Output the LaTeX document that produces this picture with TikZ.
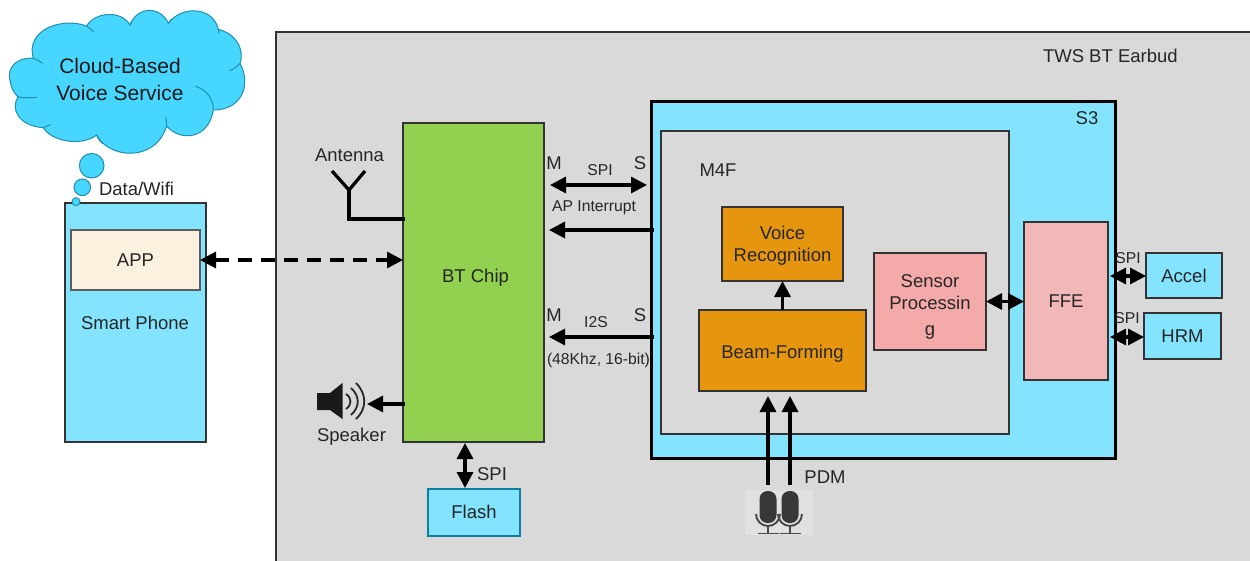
\documentclass[tikz,border=0pt]{standalone}
\usepackage{fontspec}
\setmainfont{Liberation Sans}
\usetikzlibrary{arrows.meta}
\definecolor{lightcy}{HTML}{84E4FF}
\definecolor{cloudcy}{HTML}{46D6FF}
\definecolor{cloudln}{HTML}{1F8FAE}
\definecolor{bggray}{HTML}{D9D9D9}
\definecolor{micbg}{HTML}{E1E1E1}
\definecolor{btgreen}{HTML}{92D050}
\definecolor{boxor}{HTML}{E6950F}
\definecolor{senspk}{HTML}{F4AAA8}
\definecolor{ffepk}{HTML}{F2B8B8}
\definecolor{appcr}{HTML}{FBF1DF}
\definecolor{edge}{HTML}{333333}
\definecolor{tealedge}{HTML}{0E7F9E}
\newcommand{\fsL}{\fontsize{18.5}{23}\selectfont}
\newcommand{\fsS}{\fontsize{15.7}{19}\selectfont}
\newcommand{\fsC}{\fontsize{21}{26}\selectfont}
\newcommand{\dn}[2]{\raisebox{-#1pt}[0.7em][0.2em]{#2}}
\tikzset{
  x=1pt,y=-1pt,
  box/.style={draw=edge,line width=1.4pt,inner sep=0pt,outer sep=0pt,align=center,font=\fsL,text=black!85},
  lblL/.style={inner sep=0pt,outer sep=0pt,font=\fsL,text=black!85,align=center},
  lblS/.style={inner sep=0pt,outer sep=0pt,font=\fsS,text=black!85,align=center},
  wire/.style={line width=3.3pt,draw=black},
  one/.style={wire,-{Triangle[length=16pt,width=16pt]}},
  two/.style={wire,{Triangle[length=16pt,width=16pt]}-{Triangle[length=16pt,width=16pt]}},
  bubble/.style={draw=cloudln,fill=cloudcy,line width=1pt},
  micpart/.style={draw=black!72,line width=1.9pt,fill=none},
  spkarc/.style={draw=black!85,line width=1.8pt,fill=none},
  cloudseam/.style={draw=cloudln,line width=1pt},
}
\begin{document}
\begin{tikzpicture}
\useasboundingbox (0,0) rectangle (1250,560);
\clip (0,0) rectangle (1250,560);
\fill[white] (0,0) rectangle (1250,560);
% earbud background
\draw[draw=edge,fill=bggray,line width=1.2pt] (276,32) rectangle (1270,580);
\node[lblL,anchor=west] (tws) at (1043,56) {TWS BT Earbud};
% phone
\node[box,fill=lightcy,minimum width=141pt,minimum height=239pt] (phone) at (135.5,322.5) {};
\node[box,fill=appcr,minimum width=129pt,minimum height=60pt,draw=edge!80,line width=1.1pt] (app) at (135.5,260) {APP};
\node[lblL] (phonetxt) at (135,323) {Smart Phone};
% cloud
\begin{scope}[scale=1/3]
\path[bubble]
  (100,175) .. controls (50,170) and (20,205) .. (30,240)
  .. controls (33,265) and (45,285) .. (55,290)
  .. controls (30,325) and (55,378) .. (130,383)
  .. controls (155,425) and (245,440) .. (290,405)
  .. controls (325,475) and (465,490) .. (500,378)
  .. controls (540,425) and (625,420) .. (640,330)
  .. controls (725,330) and (755,255) .. (720,190)
  .. controls (735,145) and (705,100) .. (655,88)
  .. controls (640,20) and (545,15) .. (505,70)
  .. controls (480,15) and (410,20) .. (390,75)
  .. controls (365,30) and (285,35) .. (260,78)
  .. controls (185,50) and (75,90) .. (100,175) -- cycle;
\draw[cloudseam] (50,290) .. controls (70,295) and (90,293) .. (110,292);
\draw[cloudseam] (585,258) .. controls (620,270) and (640,295) .. (640,330);
\draw[cloudseam] (720,190) .. controls (712,200) and (700,208) .. (688,212);
\draw[cloudseam] (130,383) .. controls (135,380) and (145,377) .. (152,374);
\draw[cloudseam] (290,405) .. controls (293,415) and (300,425) .. (310,432);
\draw[cloudseam] (500,378) -- (498,350);
\draw[cloudseam] (260,78) .. controls (268,83) and (275,90) .. (280,96);
\draw[cloudseam] (100,175) .. controls (110,178) and (120,184) .. (128,190);
\draw[cloudseam] (390,75) -- (395,62);
\draw[cloudseam] (505,70) -- (514,57);
\draw[cloudseam] (655,88) -- (657,100);
\end{scope}
\node[inner sep=0pt,outer sep=0pt,font=\fsC,text=black!90,align=center] (cloudtxt) at (120,79) {Cloud-Based\\[1pt]Voice Service};
\node[circle,bubble,minimum size=24.6pt,inner sep=0pt] (b1) at (91.7,165.7) {};
\node[circle,bubble,minimum size=16.6pt,inner sep=0pt] (b2) at (82.3,187.3) {};
\node[circle,bubble,minimum size=8pt,inner sep=0pt] (b3) at (76,201.7) {};
\node[lblL,anchor=west] (data) at (99,189) {Data/Wifi};
% BT chip
\node[box,fill=btgreen,minimum width=141pt,minimum height=319pt] (bt) at (473.5,282.5) {\hspace*{4pt}\dn{-5}{BT Chip}};
% S3
\node[draw=black,fill=lightcy,line width=3pt,minimum width=464pt,minimum height=357pt,inner sep=0pt,outer sep=0pt] (s3) at (883,279.5) {};
\node[lblL] (s3txt) at (1087,118) {S3};
\node[box,fill=bggray,minimum width=348pt,minimum height=303pt] (m4f) at (835,282.5) {};
\node[lblL] (m4ftxt) at (718,170) {M4F};
\node[box,fill=boxor,minimum width=121pt,minimum height=74pt] (voice) at (782.5,244) {\dn{2}{Voice}\\\dn{1}{Recognition}};
\node[box,fill=boxor,minimum width=167pt,minimum height=81pt] (beam) at (782.5,350.5) {\dn{3}{Beam-Forming}};
\node[box,fill=senspk,minimum width=112pt,minimum height=97pt] (sensor) at (930,301.5) {\dn{4}{Sensor}\\\dn{3}{Processin}\\\dn{6}{g}};
\node[box,fill=ffepk,minimum width=84pt,minimum height=158pt] (ffe) at (1066,301) {FFE};
\node[box,fill=lightcy,minimum width=76pt,minimum height=45pt] (accel) at (1184,275.5) {Accel};
\node[box,fill=lightcy,minimum width=77pt,minimum height=46pt] (hrm) at (1182.5,336) {HRM};
\node[box,fill=lightcy,draw=tealedge,minimum width=92pt,minimum height=47pt] (flash) at (474,512.5) {\dn{1}{Flash}};
% antenna
\coordinate (antL) at (332,171);
\coordinate (antR) at (365,171);
\coordinate (antC) at (349,190);
\coordinate (antB) at (349,219);
\coordinate (antE) at (405,219);
\draw[line width=3.3pt] (antL) -- (antC) -- (antR);
\draw[line width=3.3pt] (antC) -- (antB) -- (antE);
\node[lblL] (anttxt) at (349.5,155) {Antenna};
% speaker
\fill[black!90] (317,393) -- (330,393) -- (342.5,383) -- (342.5,419) -- (330,410) -- (317,410) -- cycle;
\draw[spkarc] (346,394) .. controls (352,398) and (352,405) .. (346,409);
\draw[spkarc] (351,388) .. controls (360,396) and (360,407) .. (351,415);
\draw[spkarc] (356,383) .. controls (367,394) and (367,409) .. (356,419);
\coordinate (spkR) at (367,404);
\coordinate (btSpk) at (405,404);
\draw[one] (btSpk) -- (spkR);
\node[lblL] (spktxt) at (351.5,437) {Speaker};
% phone to bt
\draw[wire,dash pattern=on 14pt off 9pt,{Triangle[length=16pt,width=16pt]}-{Triangle[length=16pt,width=16pt]}] (app.east) -- (bt.west |- app.east);
% SPI to flash
\coordinate (btB) at (465,443);
\coordinate (flT) at (465,488);
\draw[two] (btB) -- (flT);
\node[lblL] (flspi) at (492,474) {SPI};
% M/S labels
\node[lblL] (m1) at (554,163) {M};
\node[lblL] (s1) at (640,163) {S};
\node[lblL] (m2) at (554,315) {M};
\node[lblL] (s2) at (640,315) {S};
\node[lblS] (spi1) at (600,170) {SPI};
\node[lblS] (apint) at (594,208) {AP Interrupt};
\node[lblS] (i2s) at (596,322) {I2S};
\node[lblS] (rate) at (598.5,360) {(48Khz, 16-bit)};
\coordinate (spiA) at (550,185);
\coordinate (spiB) at (647,185);
\coordinate (apA) at (654,230);
\coordinate (apB) at (549,230);
\coordinate (i2A) at (654,337);
\coordinate (i2B) at (549,337);
\draw[two] (spiA) -- (spiB);
\draw[one] (apA) -- (apB);
\draw[one] (i2A) -- (i2B);
% inner
\draw[one] (beam.north) -- (voice.south);
\draw[two] (sensor.east) -- (ffe.west |- sensor.east);
\coordinate (ffeA) at (1110,276);
\coordinate (ffeH) at (1110,337);
\draw[two] (ffeA) -- (accel.west |- ffeA);
\draw[two] (ffeH) -- (hrm.west |- ffeH);
\node[lblS] (spiac) at (1128,258) {SPI};
\node[lblS] (spihr) at (1127,318) {SPI};
% microphones
\fill[micbg] (745,490) rectangle (813,535);
\foreach \cx in {768,790}{
  \fill[black!78,rounded corners=8pt] (\cx-8.5,491) rectangle (\cx+8.5,523);
  \draw[micpart] (\cx-12,514) arc[start angle=180,end angle=360,radius=12pt];
  \draw[micpart] (\cx,526) -- (\cx,533);
  \draw[micpart] (\cx-10.5,533.5) -- (\cx+10.5,533.5);
}
\coordinate (pdm1a) at (768,485);
\coordinate (pdm2a) at (790,485);
\coordinate (pdm1b) at (768,396);
\coordinate (pdm2b) at (790,396);
\draw[one] (pdm1a) -- (pdm1b);
\draw[one] (pdm2a) -- (pdm2b);
\node[lblL] (pdmtxt) at (825,477) {PDM};
\end{tikzpicture}
\end{document}
